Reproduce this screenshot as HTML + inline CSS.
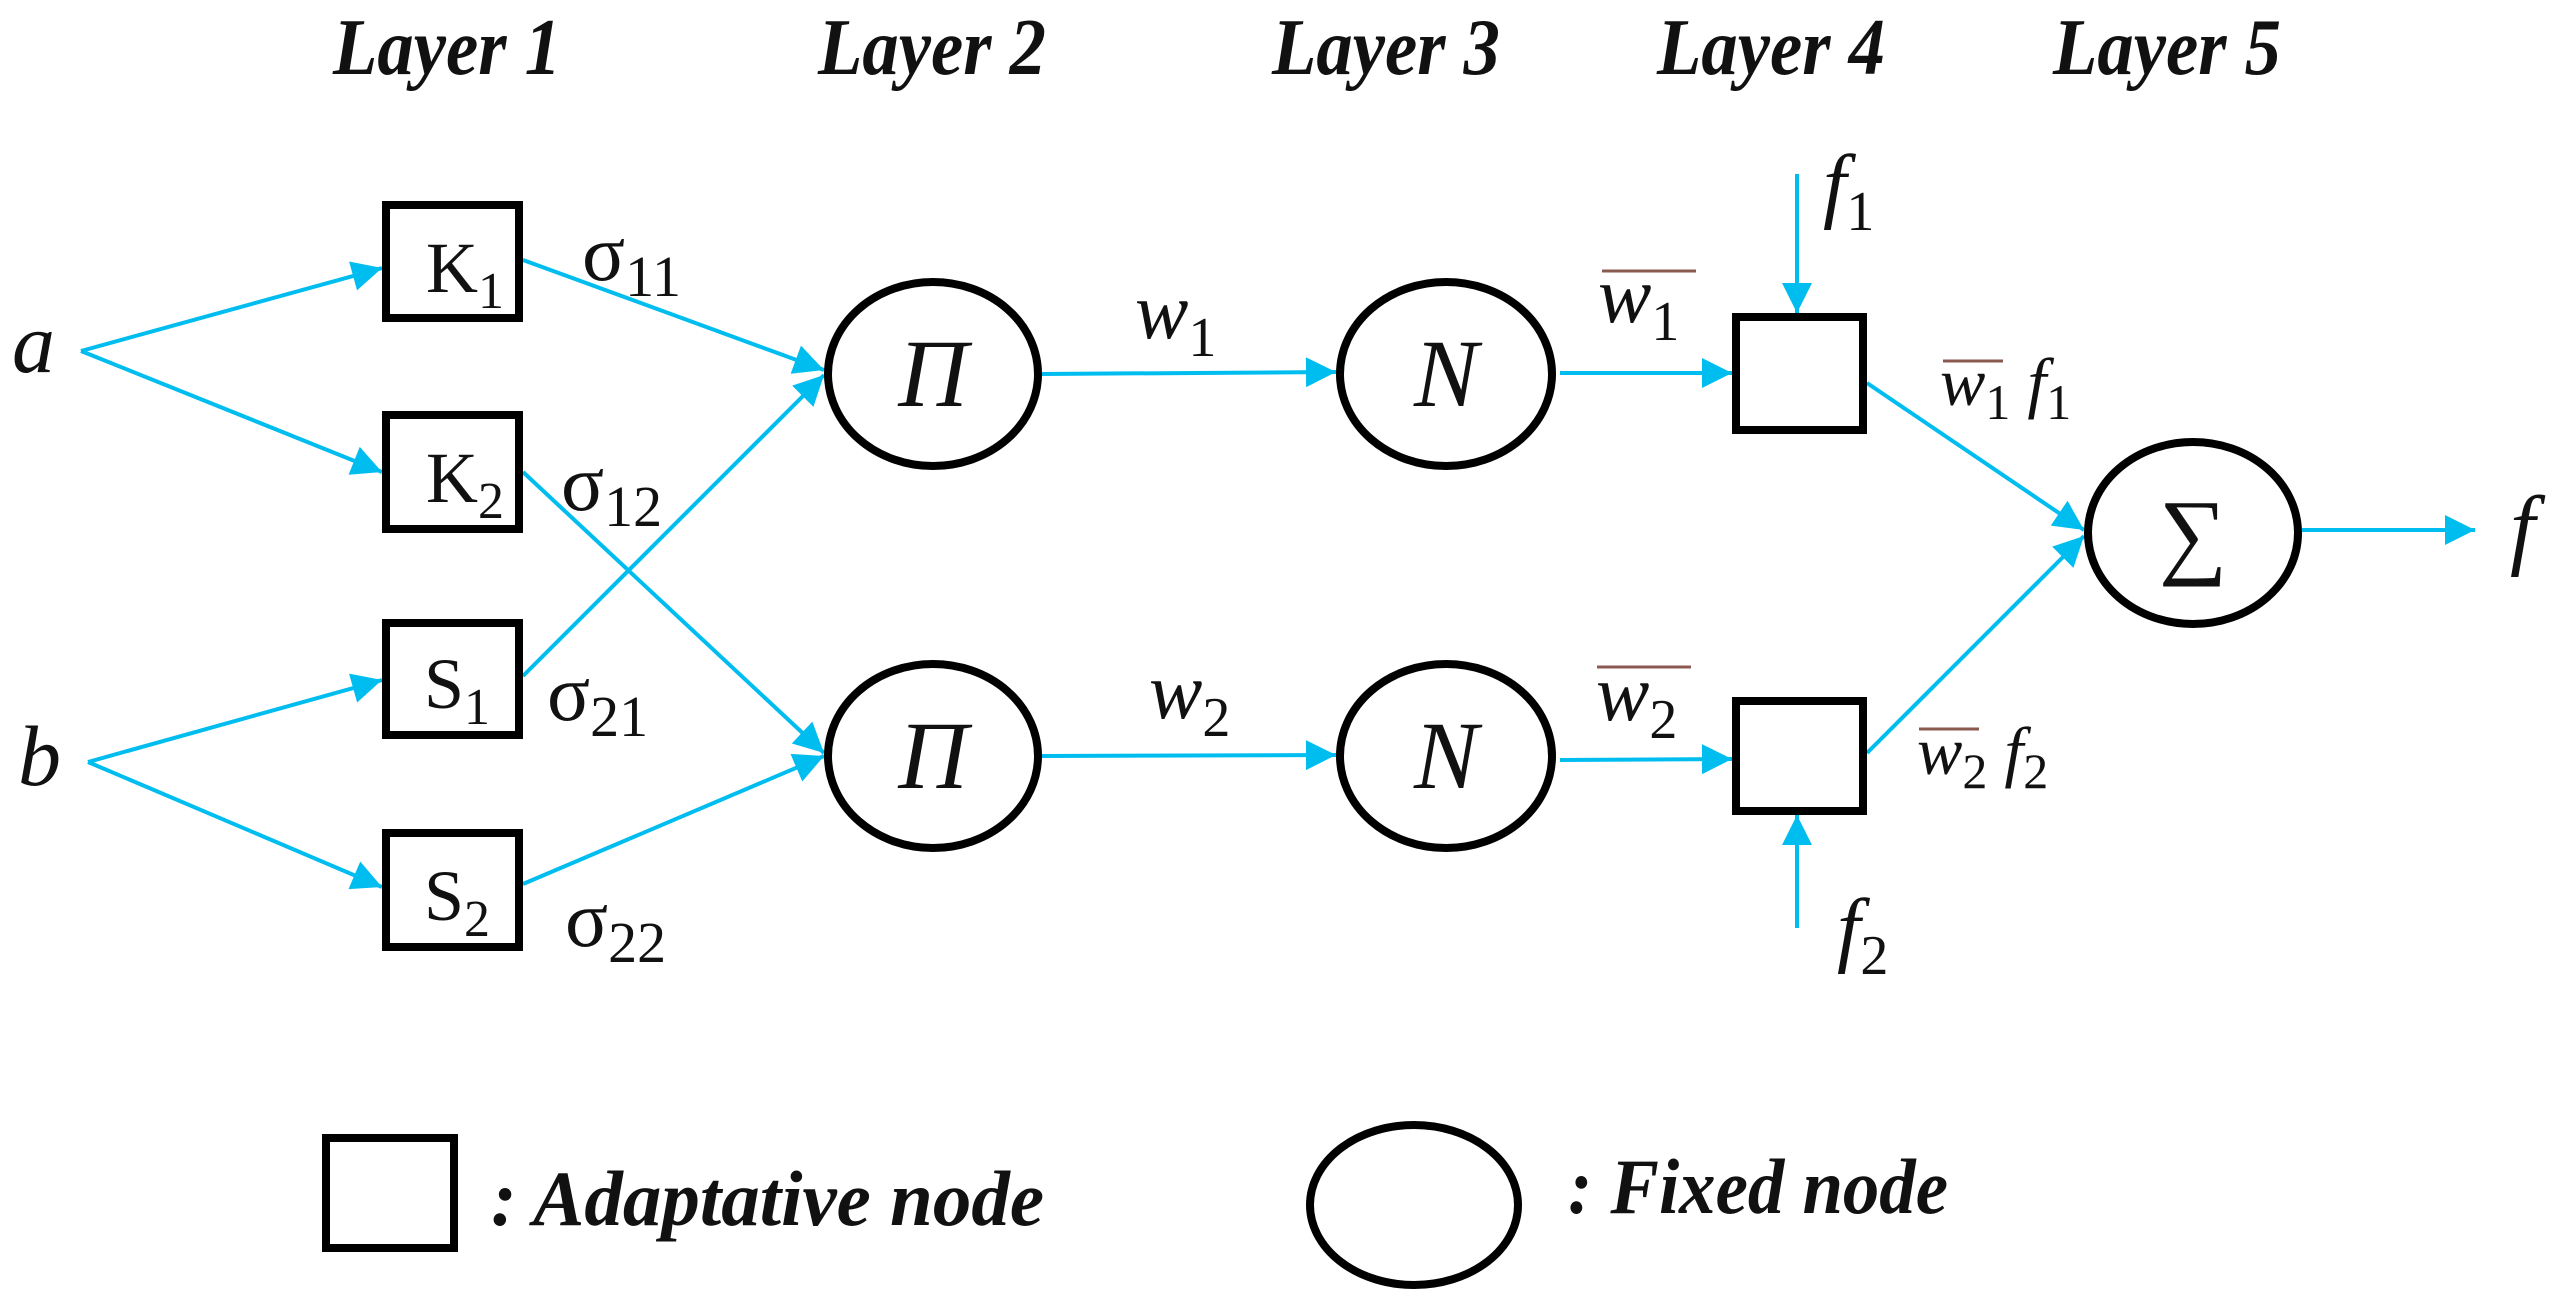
<!DOCTYPE html>
<html><head><meta charset="utf-8"><style>html,body{margin:0;padding:0;background:#fff}svg{display:block}</style></head>
<body>
<svg width="2567" height="1301" viewBox="0 0 2567 1301" xmlns="http://www.w3.org/2000/svg">
<defs>
<marker id="a" viewBox="0 0 10 10" refX="10" refY="5" markerWidth="36" markerHeight="30" markerUnits="userSpaceOnUse" orient="auto"><path d="M0,0 L10,5 L0,10 z" fill="#00BDF0"/></marker>
</defs>
<g font-family="Liberation Serif, serif" font-style="italic" font-weight="bold" font-size="80" fill="#111">
<text x="333" y="74" textLength="228" lengthAdjust="spacingAndGlyphs">Layer 1</text>
<text x="818" y="74" textLength="228" lengthAdjust="spacingAndGlyphs">Layer 2</text>
<text x="1272" y="74" textLength="228" lengthAdjust="spacingAndGlyphs">Layer 3</text>
<text x="1657" y="74" textLength="228" lengthAdjust="spacingAndGlyphs">Layer 4</text>
<text x="2053" y="74" textLength="228" lengthAdjust="spacingAndGlyphs">Layer 5</text>
</g>
<g stroke="#00BDF0" stroke-width="4" fill="none" marker-end="url(#a)">
<line x1="81" y1="351" x2="382" y2="268"/>
<line x1="81" y1="351" x2="382" y2="472"/>
<line x1="88" y1="762" x2="382" y2="680"/>
<line x1="88" y1="762" x2="382" y2="887"/>
<line x1="523" y1="260" x2="824" y2="370"/>
<line x1="523" y1="472" x2="824" y2="753"/>
<line x1="523" y1="676" x2="824" y2="375"/>
<line x1="523" y1="884" x2="824" y2="756"/>
<line x1="1042" y1="374" x2="1336" y2="372"/>
<line x1="1042" y1="756" x2="1336" y2="755"/>
<line x1="1560" y1="373" x2="1732" y2="373"/>
<line x1="1560" y1="760" x2="1732" y2="759"/>
<line x1="1797" y1="174" x2="1797" y2="313"/>
<line x1="1797" y1="928" x2="1797" y2="815"/>
<line x1="1867" y1="383" x2="2084" y2="530"/>
<line x1="1867" y1="753" x2="2084" y2="536"/>
<line x1="2302" y1="530" x2="2475" y2="530"/>
</g>
<g stroke="#000" stroke-width="8" fill="none">
<rect x="386" y="205" width="133" height="113"/>
<rect x="386" y="415" width="133" height="114"/>
<rect x="386" y="623" width="133" height="112"/>
<rect x="386" y="833" width="133" height="114"/>
<rect x="1736" y="317" width="127" height="113"/>
<rect x="1736" y="701" width="127" height="110"/>
<ellipse cx="933" cy="374" rx="105" ry="92"/>
<ellipse cx="933" cy="756" rx="105" ry="92"/>
<ellipse cx="1446" cy="374" rx="106" ry="92"/>
<ellipse cx="1446" cy="756" rx="106" ry="92"/>
<ellipse cx="2193" cy="533" rx="105" ry="91"/>
<rect x="326" y="1138" width="128" height="110"/>
<ellipse cx="1414" cy="1205" rx="104" ry="80"/>
</g>
<g font-family="Liberation Serif, serif" font-size="72" fill="#111">
<text x="426" y="292">K<tspan font-size="52" dy="16">1</tspan></text>
<text x="426" y="502">K<tspan font-size="52" dy="16">2</tspan></text>
<text x="424" y="708">S<tspan font-size="52" dy="16">1</tspan></text>
<text x="424" y="920">S<tspan font-size="52" dy="16">2</tspan></text>
<text x="582" y="280" font-size="80">σ<tspan font-size="58" dy="16">11</tspan></text>
<text x="561" y="510" font-size="80">σ<tspan font-size="58" dy="16">12</tspan></text>
<text x="547" y="720" font-size="80">σ<tspan font-size="58" dy="16">21</tspan></text>
<text x="565" y="946" font-size="80">σ<tspan font-size="58" dy="16">22</tspan></text>
<g font-style="italic">
<text x="12" y="372" font-size="86">a</text>
<text x="18" y="785" font-size="86">b</text>
<text x="933" y="406" font-size="96" text-anchor="middle">Π</text>
<text x="933" y="788" font-size="96" text-anchor="middle">Π</text>
<text x="1446" y="406" font-size="96" text-anchor="middle">N</text>
<text x="1446" y="788" font-size="96" text-anchor="middle">N</text>
<text x="1135" y="338" font-size="80">w<tspan font-style="normal" font-size="56" dy="18">1</tspan></text>
<text x="1149" y="718" font-size="80">w<tspan font-style="normal" font-size="56" dy="18">2</tspan></text>
<text x="1598" y="322" font-size="80">w<tspan font-style="normal" font-size="56" dy="18">1</tspan></text>
<text x="1596" y="720" font-size="80">w<tspan font-style="normal" font-size="56" dy="18">2</tspan></text>
<text x="1823" y="212" font-size="84">f<tspan font-style="normal" font-size="56" dy="18">1</tspan></text>
<text x="1837" y="956" font-size="84">f<tspan font-style="normal" font-size="56" dy="18">2</tspan></text>
<text x="1940" y="405" font-size="68">w<tspan font-style="normal" font-size="50" dy="14">1</tspan><tspan dy="-14"> f</tspan><tspan font-style="normal" font-size="50" dy="14">1</tspan></text>
<text x="1917" y="774" font-size="68">w<tspan font-style="normal" font-size="50" dy="14">2</tspan><tspan dy="-14"> f</tspan><tspan font-style="normal" font-size="50" dy="14">2</tspan></text>
<text x="2510" y="558" font-size="90">f</text>
</g>
<text x="2193" y="566" font-size="96" text-anchor="middle">∑</text>
</g>
<g stroke="#8a5a50" stroke-width="3">
<line x1="1602" y1="271" x2="1696" y2="271"/>
<line x1="1597" y1="667" x2="1691" y2="667"/>
<line x1="1943" y1="361" x2="2003" y2="361"/>
<line x1="1919" y1="729" x2="1979" y2="729"/>
</g>
<g font-family="Liberation Serif, serif" font-style="italic" font-weight="bold" font-size="78" fill="#111">
<text x="491" y="1225" textLength="553" lengthAdjust="spacingAndGlyphs">: Adaptative node</text>
<text x="1568" y="1213" textLength="380" lengthAdjust="spacingAndGlyphs">: Fixed node</text>
</g>
</svg>
</body></html>
